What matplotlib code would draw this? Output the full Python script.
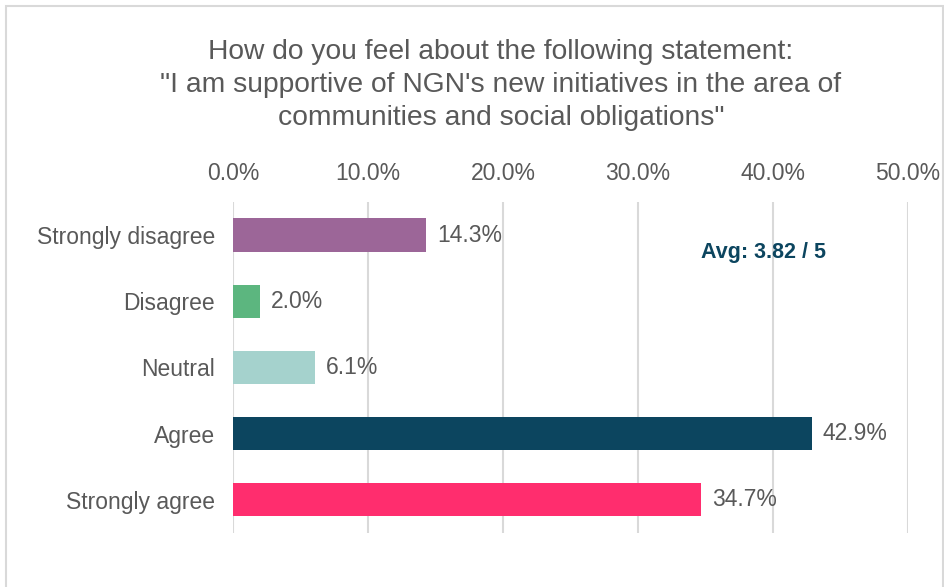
import matplotlib.pyplot as plt
from matplotlib.patches import Rectangle

plt.rcParams['font.family'] = ['Liberation Sans', 'DejaVu Sans']

categories = ["Strongly disagree", "Disagree", "Neutral", "Agree", "Strongly agree"]
shares = [14.3, 2.0, 6.1, 42.9, 34.7]
bar_colors = ["#9C6698", "#5CB67F", "#A5D2CD", "#0C455F", "#FF2D6E"]
x_ticks = [0, 10, 20, 30, 40, 50]
x_tick_labels = ["0.0%", "10.0%", "20.0%", "30.0%", "40.0%", "50.0%"]
avg_text = "Avg: 3.82 / 5"

text_grey = "#595959"
grid_grey = "#D9D9D9"

fig = plt.figure(figsize=(9.45, 5.87), dpi=100)
fig.patch.set_facecolor("white")

# thin outer frame around the whole chart
fig.patches.append(Rectangle((0.006, -0.01), 0.992, 1.0, transform=fig.transFigure,
                             fill=False, edgecolor=grid_grey, linewidth=1.5))

ax = fig.add_axes([0.2466, 0.092, 0.7143, 0.564])
ypos = list(range(len(categories)))
ax.barh(ypos, shares, height=0.5, color=bar_colors, zorder=3)
ax.set_ylim(len(categories) - 0.5, -0.5)
ax.set_xlim(0, 50)

ax.set_yticks(ypos)
ax.set_yticklabels(categories, fontsize=16.5, color=text_grey)
ax.xaxis.tick_top()
ax.set_xticks(x_ticks)
ax.set_xticklabels(x_tick_labels, fontsize=16.5, color=text_grey)
ax.tick_params(axis="both", length=0)
ax.tick_params(axis="x", pad=12)
ax.tick_params(axis="y", pad=13)

ax.grid(axis="x", color=grid_grey, linewidth=1.5, zorder=0)
for side in ax.spines.values():
    side.set_visible(False)

for y, v in zip(ypos, shares):
    ax.text(v + 0.8, y, "%.1f%%" % v, va="center", ha="left", fontsize=16.5, color=text_grey)

ax.text(39.3, 0.26, avg_text, ha="center", va="center", fontsize=15.5,
        fontweight="bold", color="#0C455F")

fig.text(0.53, 0.855, "How do you feel about the following statement:\n"
         "\"I am supportive of NGN's new initiatives in the area of\n"
         "communities and social obligations\"",
         ha="center", va="center", fontsize=20.3, color=text_grey, linespacing=1.36)

fig.savefig("out.png", dpi=100)
